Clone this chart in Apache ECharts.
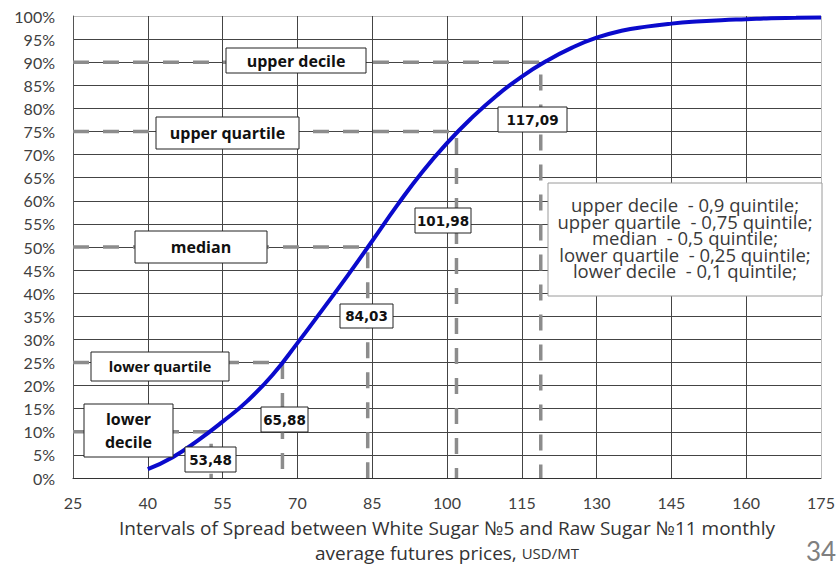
<!DOCTYPE html>
<html><head><meta charset="utf-8">
<script src="https://cdn.jsdelivr.net/npm/echarts@6/dist/echarts.min.js"></script>
<style>html,body{margin:0;padding:0;background:#fff}#c{width:838px;height:564px}</style>
</head><body><div id="c"></div>
<script>
// Curve: cumulative probability (%) vs spread (USD/MT)
const spreadX = [40,45,50,55,60,65,70,75,80,85,90,95,100,105,110,115,120,125,130,135,140,145,150,155,160,165,170,175];
const cdfPercent = [1.9,4.5,8.1,12.2,16.7,22.3,29.2,36.4,43.7,51.3,59.0,66.2,72.5,78.0,82.8,86.9,90.3,93.1,95.3,96.8,97.7,98.35,98.8,99.1,99.3,99.5,99.6,99.7];
// Quantile reference lines
const quantileLevels = [10,25,50,75,90];
const quantileX = [52.7,67.0,84.1,101.9,118.8];
const quantileValueLabels = ['53,48','65,88','84,03','101,98','117,09'];
const quantileNames = ['lower\ndecile','lower quartile','median','upper quartile','upper decile'];
const legendLines = [
  'upper decile  - 0,9 quintile;',
  'upper quartile  - 0,75 quintile;',
  'median  - 0,5 quintile;',
  'lower quartile  - 0,25 quintile;',
  'lower decile  - 0,1 quintile;'
];
const xMin = 25, xMax = 175, xStep = 15;
const yMin = 0, yMax = 100, yStep = 5;

const chart = echarts.init(document.getElementById('c'), null, {renderer:'svg'});

const dashSeries = quantileLevels.map((lv,i)=>({
  type:'line', data:[[xMin,lv],[quantileX[i],lv],[quantileX[i],0]],
  showSymbol:false, silent:true, z:3,
  lineStyle:{color:'#8c8c8c', width:3.5, type:[16,14]}
}));

function box(x,y,w,h,text,font,opts){
  opts = opts||{};
  return {type:'group', z:100, children:[
    {type:'rect', shape:{x:x,y:y,width:w,height:h}, style:{fill:'#fff', stroke:opts.stroke||'#222', lineWidth:1}, z:100},
    {type:'text', x:x+w/2, y:y+h/2+(opts.dy||0), z:101, style:{text:text, font:font, fill:opts.color||'#111', align:'center', verticalAlign:'middle', lineHeight:opts.lh||undefined}}
  ]};
}

const lblFont = 'bold 16px "Open Sans"';
const numFont = 'bold 13.5px "DejaVu Sans"';

const graphics = [
  box(226,48,140,25,quantileNames[4],lblFont),
  box(156,117,143,32,quantileNames[3],lblFont),
  box(135,231,132,32,quantileNames[2],lblFont),
  box(91,352,138,29,quantileNames[1],'bold 14.5px "Open Sans"'),
  box(84,404,89,53,quantileNames[0],lblFont,{lh:23}),
  box(185,447,51,25,quantileValueLabels[0],numFont),
  box(261,407,47,25,quantileValueLabels[1],numFont),
  box(340,304,53,24,quantileValueLabels[2],numFont),
  box(415,208,56,25,quantileValueLabels[3],numFont),
  box(498,107,69,25,quantileValueLabels[4],numFont),
  box(548,183,274,113,legendLines.join('\n'),'18.5px "Open Sans"',{stroke:'#9a9a9a',color:'#3a3a3a',lh:16.5,dy:-2}),
  {type:'text', left:806, top:538, z:100, style:{text:'34', font:'26px Lato', fill:'#7f7f7f'}}
];

const ySplitColors = [];
for (let v = yMin; v <= yMax; v += yStep) ySplitColors.push(v === yMax ? '#bdbdbd' : '#444');
const xSplitColors = [];
for (let v = xMin; v <= xMax; v += xStep) xSplitColors.push(v === xMax ? '#bdbdbd' : '#444');

chart.setOption({
  animation:false,
  grid:{left:73, right:17, top:16, bottom:86, outerBoundsMode:'none', containLabel:false},
  xAxis:{
    type:'value', min:xMin, max:xMax, interval:xStep,
    axisLine:{show:true, lineStyle:{color:'#333', width:1}},
    axisTick:{show:false},
    axisLabel:{color:'#404040', fontFamily:'Lato', fontSize:16, margin:16},
    splitLine:{show:true, lineStyle:{color:xSplitColors, width:1}},
    name:'Intervals of Spread between White Sugar №5 and Raw Sugar №11 monthly\naverage futures prices, {s|USD/MT}',
    nameLocation:'middle', nameGap:37,
    nameTextStyle:{color:'#333', fontFamily:'Open Sans', fontSize:19, lineHeight:25, align:'center', rich:{s:{fontFamily:'Open Sans', fontSize:15, color:'#333'}}}
  },
  yAxis:{
    type:'value', min:yMin, max:yMax, interval:yStep,
    axisLine:{show:true, lineStyle:{color:'#555', width:1}},
    axisTick:{show:false},
    axisLabel:{color:'#404040', fontFamily:'Lato', fontSize:16, margin:18, formatter:'{value}%'},
    splitLine:{show:true, lineStyle:{color:ySplitColors, width:1}}
  },
  series:[
    ...dashSeries,
    {type:'line', data:spreadX.map((x,i)=>[x,cdfPercent[i]]), smooth:0.5, showSymbol:false, z:5,
     lineStyle:{color:'#0a0acc', width:4}}
  ],
  graphic:graphics
});
</script></body></html>
